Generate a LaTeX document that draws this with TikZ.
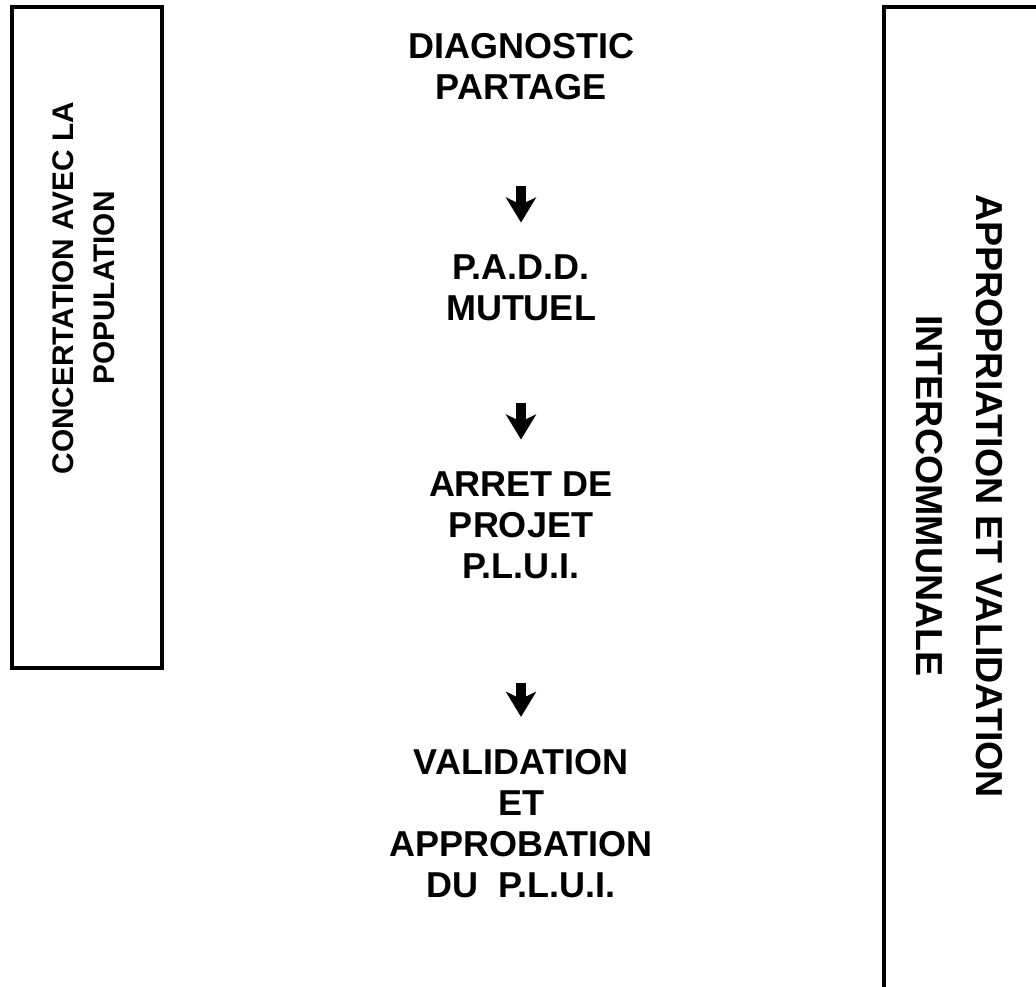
\documentclass[tikz,border=0pt]{standalone}
\usepackage{fontspec}
\setmainfont{Liberation Sans}
\usepackage{tikz}
\usetikzlibrary{arrows.meta,positioning}
\tikzset{
  etape/.style={
    inner sep=0pt,
    align=center,
    font=\fontsize{18}{20.5}\selectfont\bfseries},
  cadre/.style={draw=black, line width=2pt},
  lateral/.style={
    inner sep=0pt,
    align=center},
  fleche/.style={
    draw, line width=5pt,
    -{Stealth[width=15pt,length=12.5pt,inset=3.5pt]}},
}
\begin{document}
\begin{tikzpicture}[x=0.5pt,y=-0.5pt]
  \clip (0,0) rectangle (1036,986);
  % cadres lateraux
  \draw[cadre] (12,7) rectangle (162,668);
  \draw[cadre] (884,1000) -- (884,7) -- (1050,7);
  \node[lateral, rotate=90, font=\fontsize{14.9}{20.5}\selectfont\bfseries]
    (concert) at (84,288) {CONCERTATION AVEC LA\\POPULATION};
  \node[lateral, rotate=-90, font=\fontsize{18.8}{30}\selectfont\bfseries]
    (approp) at (959,496) {APPROPRIATION ET VALIDATION\\INTERCOMMUNALE};
  % etapes
  \node[etape] (diag)  at (521,67)    {DIAGNOSTIC\\PARTAGE};
  \node[etape] (padd)  at (521,288)   {P.A.D.D.\\MUTUEL};
  \node[etape] (arret) at (521,525.5) {ARRET DE\\PROJET\\P.L.U.I.};
  \node[etape] (valid) at (521,823.5) {VALIDATION\\ET\\APPROBATION\\DU~ P.L.U.I.};
  \draw[fleche, shorten <=42.5pt, shorten >=16pt] (diag.south) -- (padd.north);
  \draw[fleche, shorten <=41pt, shorten >=16pt] (padd.south) -- (arret.north);
  \draw[fleche, shorten <=52pt, shorten >=16pt] (arret.south) -- (valid.north);
\end{tikzpicture}
\end{document}
